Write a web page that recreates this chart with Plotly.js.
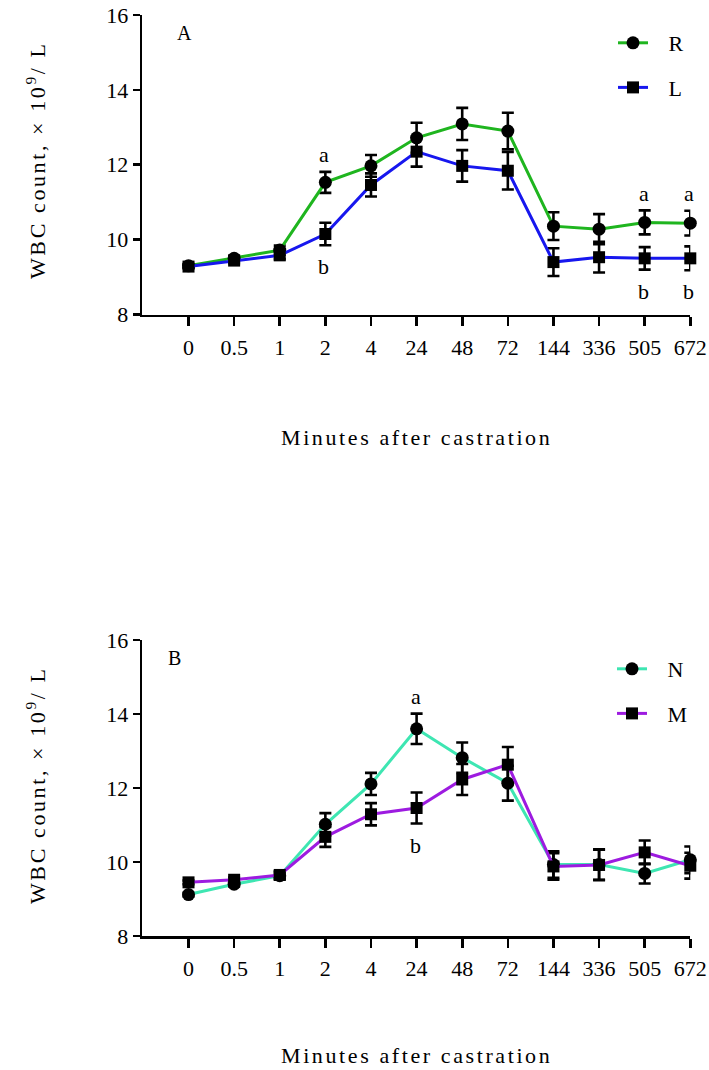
<!DOCTYPE html>
<html><head><meta charset="utf-8">
<script src="https://cdn.plot.ly/plotly-3.0.1.min.js"></script>
<style>
html,body{margin:0;padding:0;background:#fff}
#chart{width:709px;height:1070px}
.annotation-text{letter-spacing:2.6px}
</style></head><body><div id="chart"></div>
<script>
// ---- data ----
const timeLabels = ['0','0.5','1','2','4','24','48','72','144','336','505','672'];

const rMean = [9.30, 9.50, 9.72, 11.53, 11.97, 12.72, 13.09, 12.90, 10.36, 10.28, 10.46, 10.44];
const rSem  = [0.05, 0.07, 0.12, 0.28, 0.29, 0.40, 0.43, 0.49, 0.37, 0.40, 0.32, 0.33];
const lMean = [9.28, 9.44, 9.58, 10.15, 11.46, 12.35, 11.97, 11.84, 9.40, 9.53, 9.50, 9.50];
const lSem  = [0.05, 0.07, 0.10, 0.30, 0.31, 0.40, 0.42, 0.50, 0.37, 0.41, 0.30, 0.32];

const nMean = [9.12, 9.40, 9.63, 11.02, 12.11, 13.60, 12.82, 12.13, 9.93, 9.93, 9.69, 10.06];
const nSem  = [0.05, 0.06, 0.10, 0.30, 0.30, 0.41, 0.41, 0.47, 0.36, 0.41, 0.27, 0.36];
const mMean = [9.45, 9.52, 9.65, 10.68, 11.29, 11.46, 12.23, 12.63, 9.88, 9.92, 10.26, 9.90];
const mSem  = [0.05, 0.06, 0.10, 0.27, 0.30, 0.42, 0.42, 0.48, 0.36, 0.41, 0.32, 0.35];

// significance letters (time-point indices)
const sigTopIdx = [3, 10, 11];
const sigBotIdx = [5];

// ---- drawing ----
const FONT = 'Liberation Serif';
const xIdx = timeLabels.map((_, i) => i);

function series(name, y, err, color, symbol, size, xa, ya, legend) {
  return {
    type: 'scatter', mode: 'lines+markers', name: '\u2002\u2009' + name,
    x: xIdx, y: y, xaxis: xa, yaxis: ya, legend: legend, legendgroup: name,
    line: {color: color, width: 3},
    marker: {symbol: symbol, size: size, color: '#000'},
    error_y: {type: 'data', array: err, visible: true, color: '#000', thickness: 2.6, width: 6},
    cliponaxis: false
  };
}

const traces = [
  series('R', rMean, rSem, '#1fb51f', 'circle', 13, 'x', 'y', 'legend'),
  series('L', lMean, lSem, '#1717ee', 'square', 12, 'x', 'y', 'legend'),
  series('N', nMean, nSem, '#3ee6b2', 'circle', 13, 'x2', 'y2', 'legend2'),
  series('M', mMean, mSem, '#9d1be0', 'square', 12, 'x2', 'y2', 'legend2')
];

const W = 709, H = 1070;
const px = v => v / W, py = v => 1 - v / H;

function xAxis(anchor, dom) {
  return {
    domain: dom, anchor: anchor, range: [-1.013, 11],
    tickmode: 'array', tickvals: xIdx, ticktext: timeLabels,
    ticks: 'outside', ticklen: 9, tickwidth: 2.6, tickcolor: '#000',
    showline: true, linewidth: 2.6, linecolor: '#000',
    showgrid: false, zeroline: false, ticklabelstandoff: 2,
    tickfont: {family: FONT, size: 22, color: '#000'}
  };
}
function yAxis(anchor, dom) {
  return {
    domain: dom, anchor: anchor, range: [8, 16],
    tickmode: 'array', tickvals: [8, 10, 12, 14, 16],
    ticks: 'outside', ticklen: 7, tickwidth: 2.6, tickcolor: '#000',
    showline: true, linewidth: 2.6, linecolor: '#000',
    showgrid: false, zeroline: false,
    tickfont: {family: FONT, size: 22, color: '#000'}
  };
}

const xDom = [px(142.3), px(690.3)];
const annFont = {family: FONT, size: 22, color: '#000'};
const annotations = [];

function sig(xa, ya, idx, mean, err, letter, above) {
  annotations.push({
    xref: xa, yref: ya, x: idx, y: above ? mean[idx] + err[idx] : mean[idx] - err[idx],
    text: letter, showarrow: false, font: annFont,
    yanchor: 'middle', yshift: above ? 17 : -21.5
  });
}
sigTopIdx.forEach(i => { sig('x', 'y', i, rMean, rSem, 'a', true); sig('x', 'y', i, lMean, lSem, 'b', false); });
sigBotIdx.forEach(i => { sig('x2', 'y2', i, nMean, nSem, 'a', true); sig('x2', 'y2', i, mMean, mSem, 'b', false); });

// panel letters
annotations.push({xref: 'paper', yref: 'paper', x: px(185), y: py(32.5), text: 'A', showarrow: false,
  font: {family: FONT, size: 20, color: '#000'}, xanchor: 'center', yanchor: 'middle'});
annotations.push({xref: 'paper', yref: 'paper', x: px(176), y: py(658.2), text: 'B', showarrow: false,
  font: {family: FONT, size: 20, color: '#000'}, xanchor: 'center', yanchor: 'middle'});

// axis titles
const xTitle = 'Minutes after castration';
const yTitle = 'WBC count, \u00d7 10<sup>9</sup>/ L';
[[437.5], [1055.5]].forEach(([yy]) => annotations.push({
  xref: 'paper', yref: 'paper', x: px(416), y: py(yy), text: xTitle, showarrow: false,
  font: annFont, xanchor: 'center', yanchor: 'middle'}));
[[160], [785]].forEach(([yy]) => annotations.push({
  xref: 'paper', yref: 'paper', x: px(36), y: py(yy), text: yTitle, showarrow: false,
  font: annFont, textangle: -90, xanchor: 'center', yanchor: 'middle'}));

const legendBase = {
  xanchor: 'left', yanchor: 'top', bgcolor: 'rgba(0,0,0,0)', borderwidth: 0,
  font: {family: FONT, size: 22, color: '#000'}, tracegroupgap: 13, itemwidth: 30
};

const layout = {
  width: W, height: H, margin: {l: 0, r: 0, t: 0, b: 0},
  paper_bgcolor: '#fff', plot_bgcolor: '#fff', showlegend: true,
  xaxis: xAxis('y', xDom), yaxis: yAxis('x', [py(314.5), py(15)]),
  xaxis2: xAxis('y2', xDom), yaxis2: yAxis('x2', [py(936), py(640)]),
  legend: Object.assign({}, legendBase, {x: px(613), y: py(22)}),
  legend2: Object.assign({}, legendBase, {x: px(612), y: py(648)}),
  annotations: annotations
};

Plotly.newPlot('chart', traces, layout, {displayModeBar: false, staticPlot: true});
</script></body></html>
